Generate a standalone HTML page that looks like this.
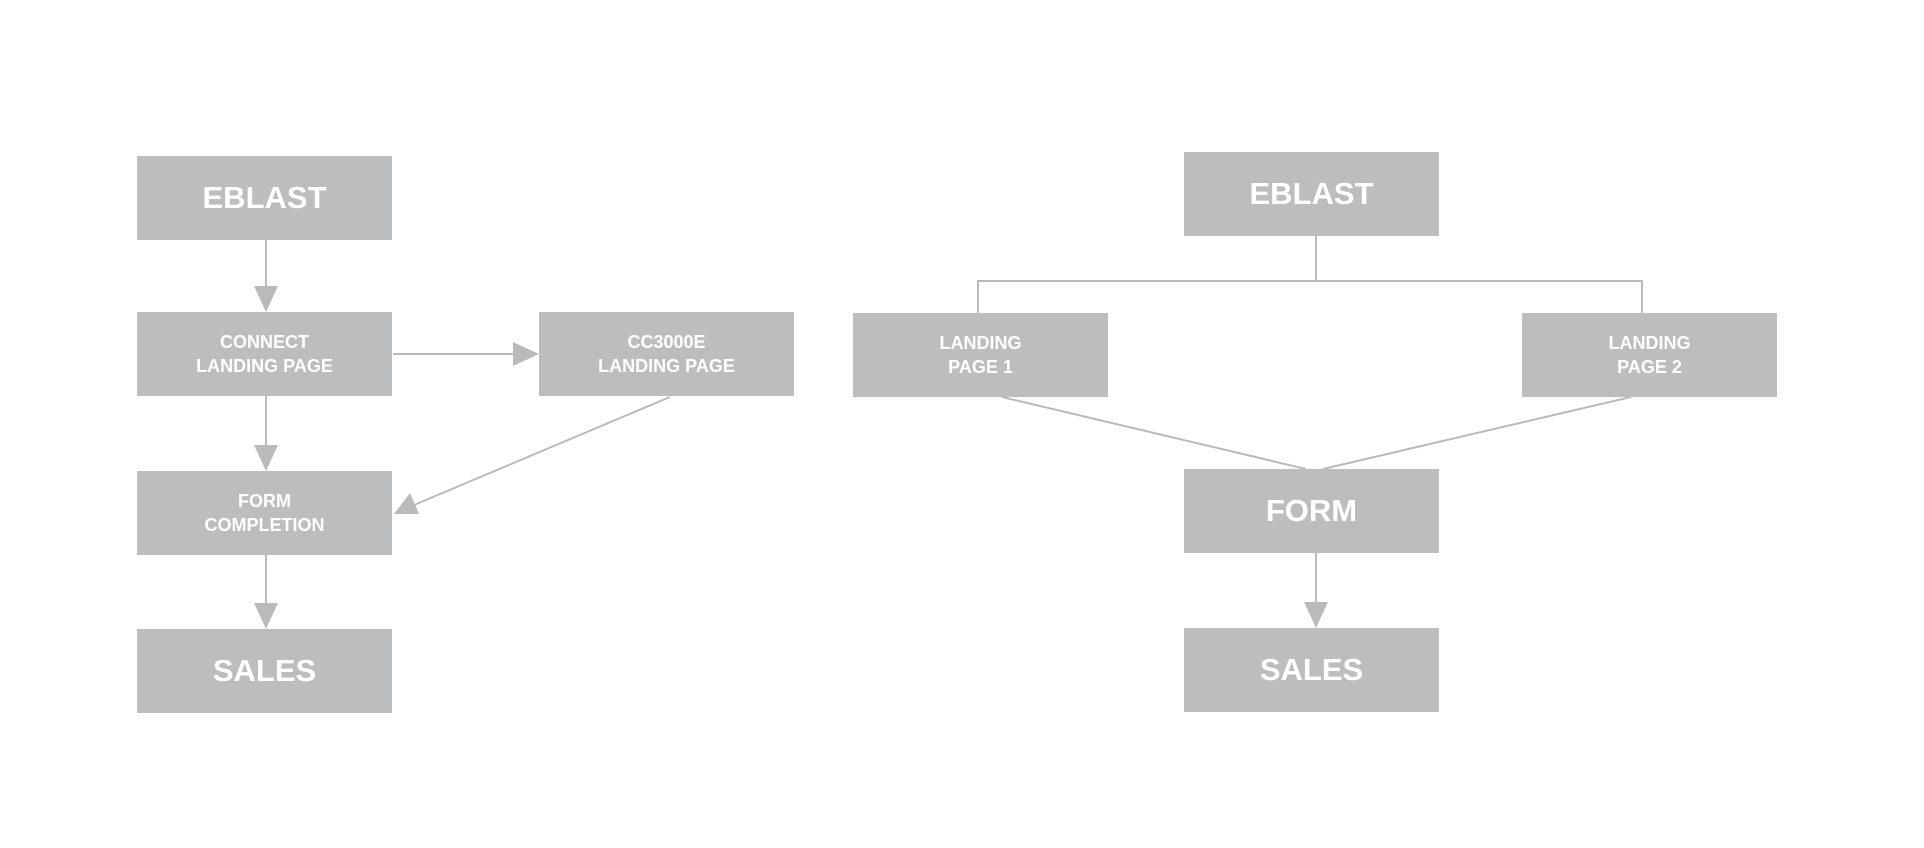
<!DOCTYPE html>
<html><head><meta charset="utf-8"><style>
html,body{margin:0;padding:0;background:#fff;width:1924px;height:848px;overflow:hidden}
.b{position:absolute;background:#bcbdbf;color:#fff;font-family:"Liberation Sans",Arial,sans-serif;font-weight:bold;display:flex;align-items:center;justify-content:center;text-align:center}
.L{font-size:31px}
.S{font-size:18px;line-height:24px}
svg{position:absolute;left:0;top:0}
</style></head><body>
<svg width="1924" height="848">
<g stroke="#b9babc" stroke-width="2" fill="none">
<line x1="266" y1="239" x2="266" y2="289"/>
<line x1="266" y1="396" x2="266" y2="447"/>
<line x1="266" y1="555" x2="266" y2="605"/>
<line x1="393" y1="354" x2="515" y2="354"/>
<line x1="670" y1="397" x2="414" y2="505"/>
<line x1="1316" y1="236" x2="1316" y2="281"/>
<polyline points="978,313 978,281 1642,281 1642,313"/>
<line x1="1002" y1="397" x2="1306" y2="469"/>
<line x1="1631" y1="397" x2="1323" y2="469"/>
<line x1="1316" y1="553" x2="1316" y2="605"/>
</g>
<g fill="#b9babc">
<polygon points="254,286 278,286 266,312"/>
<polygon points="254,445 278,445 266,471"/>
<polygon points="254,603 278,603 266,629"/>
<polygon points="1304,602 1328,602 1316,628"/>
<polygon points="513,342 513,366 539,354"/>
<polygon points="394,514 419,514 410,493"/>
</g>
</svg>
<div class="b L" style="left:137px;top:156px;width:255px;height:84px">EBLAST</div>
<div class="b S" style="left:137px;top:312px;width:255px;height:84px">CONNECT<br>LANDING PAGE</div>
<div class="b S" style="left:539px;top:312px;width:255px;height:84px">CC3000E<br>LANDING PAGE</div>
<div class="b S" style="left:137px;top:471px;width:255px;height:84px">FORM<br>COMPLETION</div>
<div class="b L" style="left:137px;top:629px;width:255px;height:84px">SALES</div>
<div class="b L" style="left:1184px;top:152px;width:255px;height:84px">EBLAST</div>
<div class="b S" style="left:853px;top:313px;width:255px;height:84px">LANDING<br>PAGE 1</div>
<div class="b S" style="left:1522px;top:313px;width:255px;height:84px">LANDING<br>PAGE 2</div>
<div class="b L" style="left:1184px;top:469px;width:255px;height:84px">FORM</div>
<div class="b L" style="left:1184px;top:628px;width:255px;height:84px">SALES</div>
</body></html>
